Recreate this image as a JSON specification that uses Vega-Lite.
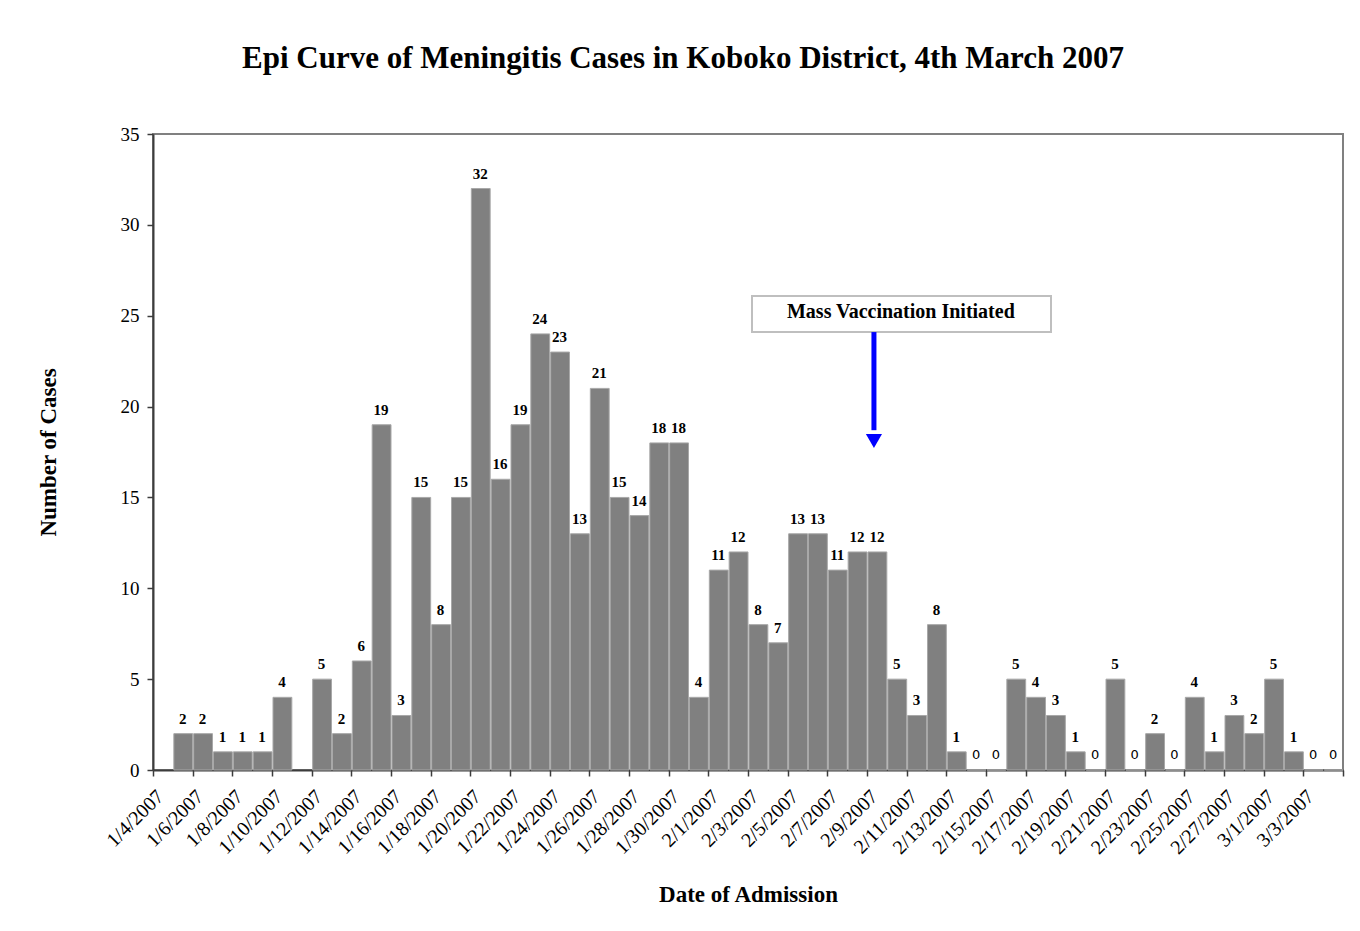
{
  "$schema": "https://vega.github.io/schema/vega-lite/v6.json",
  "width": 1190,
  "height": 636,
  "autosize": {"type": "none"},
  "padding": {"left": 153, "top": 134, "right": 17, "bottom": 161},
  "background": "white",
  "title": {
    "text": "Epi Curve of Meningitis Cases in Koboko District, 4th March 2007",
    "font": "Liberation Serif",
    "fontSize": 31,
    "fontWeight": "bold",
    "color": "black",
    "anchor": "middle",
    "frame": "group",
    "offset": 50,
    "dx": -65
  },
  "config": {
    "view": {"stroke": "#808080", "strokeWidth": 2},
    "axis": {
      "grid": false,
      "domainColor": "#3c3c3c",
      "domainWidth": 2,
      "tickColor": "#3c3c3c",
      "tickWidth": 1.5,
      "tickSize": 6,
      "labelFont": "Liberation Serif",
      "labelColor": "black",
      "titleFont": "Liberation Serif",
      "titleColor": "black",
      "titleFontWeight": "bold",
      "titleFontSize": 23
    },
    "axisX": {"labelOverlap": false, "labelSeparation": 0}
  },
  "datasets": {
    "cases": [
      {"date": "2007/01/05", "cases": 2},
      {"date": "2007/01/06", "cases": 2},
      {"date": "2007/01/07", "cases": 1},
      {"date": "2007/01/08", "cases": 1},
      {"date": "2007/01/09", "cases": 1},
      {"date": "2007/01/10", "cases": 4},
      {"date": "2007/01/12", "cases": 5},
      {"date": "2007/01/13", "cases": 2},
      {"date": "2007/01/14", "cases": 6},
      {"date": "2007/01/15", "cases": 19},
      {"date": "2007/01/16", "cases": 3},
      {"date": "2007/01/17", "cases": 15},
      {"date": "2007/01/18", "cases": 8},
      {"date": "2007/01/19", "cases": 15},
      {"date": "2007/01/20", "cases": 32},
      {"date": "2007/01/21", "cases": 16},
      {"date": "2007/01/22", "cases": 19},
      {"date": "2007/01/23", "cases": 24},
      {"date": "2007/01/24", "cases": 23},
      {"date": "2007/01/25", "cases": 13},
      {"date": "2007/01/26", "cases": 21},
      {"date": "2007/01/27", "cases": 15},
      {"date": "2007/01/28", "cases": 14},
      {"date": "2007/01/29", "cases": 18},
      {"date": "2007/01/30", "cases": 18},
      {"date": "2007/01/31", "cases": 4},
      {"date": "2007/02/01", "cases": 11},
      {"date": "2007/02/02", "cases": 12},
      {"date": "2007/02/03", "cases": 8},
      {"date": "2007/02/04", "cases": 7},
      {"date": "2007/02/05", "cases": 13},
      {"date": "2007/02/06", "cases": 13},
      {"date": "2007/02/07", "cases": 11},
      {"date": "2007/02/08", "cases": 12},
      {"date": "2007/02/09", "cases": 12},
      {"date": "2007/02/10", "cases": 5},
      {"date": "2007/02/11", "cases": 3},
      {"date": "2007/02/12", "cases": 8},
      {"date": "2007/02/13", "cases": 1},
      {"date": "2007/02/14", "cases": 0},
      {"date": "2007/02/15", "cases": 0},
      {"date": "2007/02/16", "cases": 5},
      {"date": "2007/02/17", "cases": 4},
      {"date": "2007/02/18", "cases": 3},
      {"date": "2007/02/19", "cases": 1},
      {"date": "2007/02/20", "cases": 0},
      {"date": "2007/02/21", "cases": 5},
      {"date": "2007/02/22", "cases": 0},
      {"date": "2007/02/23", "cases": 2},
      {"date": "2007/02/24", "cases": 0},
      {"date": "2007/02/25", "cases": 4},
      {"date": "2007/02/26", "cases": 1},
      {"date": "2007/02/27", "cases": 3},
      {"date": "2007/02/28", "cases": 2},
      {"date": "2007/03/01", "cases": 5},
      {"date": "2007/03/02", "cases": 1},
      {"date": "2007/03/03", "cases": 0},
      {"date": "2007/03/04", "cases": 0}
    ],
    "note": [
      {"start": "2007/02/03 04:50", "end": "2007/02/18 06:40", "top": 26.09, "bottom": 24.1, "mid": "2007/02/10 17:00", "label": "Mass Vaccination Initiated", "arrow": "2007/02/09 08:24", "arrowTop": 24.1, "arrowBase": 18.7, "arrowHead": 18.1}
    ]
  },
  "layer": [
    {
      "data": {"name": "cases"},
      "mark": {"type": "bar", "fill": "#808080", "stroke": "#a8a8a8", "strokeWidth": 1},
      "encoding": {
        "x": {
          "field": "date",
          "type": "temporal",
          "timeUnit": "yearmonthdate",
          "title": "Date of Admission",
          "scale": {"domain": [{"year": 2007, "month": 1, "date": 4}, {"year": 2007, "month": 3, "date": 5}], "nice": false},
          "axis": {
            "values": [
              {"year": 2007, "month": 1, "date": 4}, {"year": 2007, "month": 1, "date": 6},
              {"year": 2007, "month": 1, "date": 8}, {"year": 2007, "month": 1, "date": 10},
              {"year": 2007, "month": 1, "date": 12}, {"year": 2007, "month": 1, "date": 14},
              {"year": 2007, "month": 1, "date": 16}, {"year": 2007, "month": 1, "date": 18},
              {"year": 2007, "month": 1, "date": 20}, {"year": 2007, "month": 1, "date": 22},
              {"year": 2007, "month": 1, "date": 24}, {"year": 2007, "month": 1, "date": 26},
              {"year": 2007, "month": 1, "date": 28}, {"year": 2007, "month": 1, "date": 30},
              {"year": 2007, "month": 2, "date": 1}, {"year": 2007, "month": 2, "date": 3},
              {"year": 2007, "month": 2, "date": 5}, {"year": 2007, "month": 2, "date": 7},
              {"year": 2007, "month": 2, "date": 9}, {"year": 2007, "month": 2, "date": 11},
              {"year": 2007, "month": 2, "date": 13}, {"year": 2007, "month": 2, "date": 15},
              {"year": 2007, "month": 2, "date": 17}, {"year": 2007, "month": 2, "date": 19},
              {"year": 2007, "month": 2, "date": 21}, {"year": 2007, "month": 2, "date": 23},
              {"year": 2007, "month": 2, "date": 25}, {"year": 2007, "month": 2, "date": 27},
              {"year": 2007, "month": 3, "date": 1}, {"year": 2007, "month": 3, "date": 3},
              {"year": 2007, "month": 3, "date": 5}
            ],
            "tickCount": 100,
            "format": "%-m/%-d/%Y",
            "labelExpr": "datum.label == '3/5/2007' ? '' : datum.label",
            "labelAngle": -45,
            "labelAlign": "right",
            "labelBaseline": "top",
            "labelFontSize": 20,
            "labelPadding": 10,
            "labelDx": -5,
            "labelOverlap": false,
            "labelSeparation": 0,
            "labelFlush": false,
            "titlePadding": 26
          }
        },
        "y": {
          "field": "cases",
          "type": "quantitative",
          "title": "Number of Cases",
          "scale": {"domain": [0, 35], "nice": false},
          "axis": {"values": [0, 5, 10, 15, 20, 25, 30, 35], "labelFontSize": 19, "labelPadding": 8, "titlePadding": 60}
        }
      }
    },
    {
      "data": {"name": "cases"},
      "transform": [{"filter": "datum.cases > 0"}],
      "mark": {"type": "text", "font": "Liberation Serif", "fontSize": 15, "fontWeight": "bold", "color": "black", "baseline": "bottom", "dy": -7},
      "encoding": {
        "x": {"field": "date", "type": "temporal", "timeUnit": "yearmonthdate", "bandPosition": 0.5},
        "y": {"field": "cases", "type": "quantitative"},
        "text": {"field": "cases", "type": "quantitative"}
      }
    },
    {
      "data": {"name": "cases"},
      "transform": [{"filter": "datum.cases == 0"}],
      "mark": {"type": "text", "font": "DejaVu Sans", "fontSize": 13, "color": "black", "baseline": "bottom", "dy": -8},
      "encoding": {
        "x": {"field": "date", "type": "temporal", "timeUnit": "yearmonthdate", "bandPosition": 0.5},
        "y": {"field": "cases", "type": "quantitative"},
        "text": {"field": "cases", "type": "quantitative"}
      }
    },
    {
      "data": {"name": "note"},
      "mark": {"type": "rect", "fill": "white", "stroke": "#bfbfbf", "strokeWidth": 2},
      "encoding": {
        "x": {"field": "start", "type": "temporal"},
        "x2": {"field": "end"},
        "y": {"field": "top", "type": "quantitative"},
        "y2": {"field": "bottom"}
      }
    },
    {
      "data": {"name": "note"},
      "mark": {"type": "text", "font": "Liberation Serif", "fontSize": 20, "fontWeight": "bold", "color": "black", "baseline": "middle", "align": "center"},
      "encoding": {
        "x": {"field": "mid", "type": "temporal"},
        "y": {"datum": 25.2, "type": "quantitative"},
        "text": {"field": "label"}
      }
    },
    {
      "data": {"name": "note"},
      "mark": {"type": "rule", "color": "#0000ff", "strokeWidth": 5},
      "encoding": {
        "x": {"field": "arrow", "type": "temporal"},
        "y": {"field": "arrowTop", "type": "quantitative"},
        "y2": {"field": "arrowBase"}
      }
    },
    {
      "data": {"name": "note"},
      "mark": {"type": "point", "shape": "triangle-down", "filled": true, "fill": "#0000ff", "color": "#0000ff", "opacity": 1, "size": 260, "strokeWidth": 0},
      "encoding": {
        "x": {"field": "arrow", "type": "temporal"},
        "y": {"field": "arrowHead", "type": "quantitative"}
      }
    }
  ]
}
